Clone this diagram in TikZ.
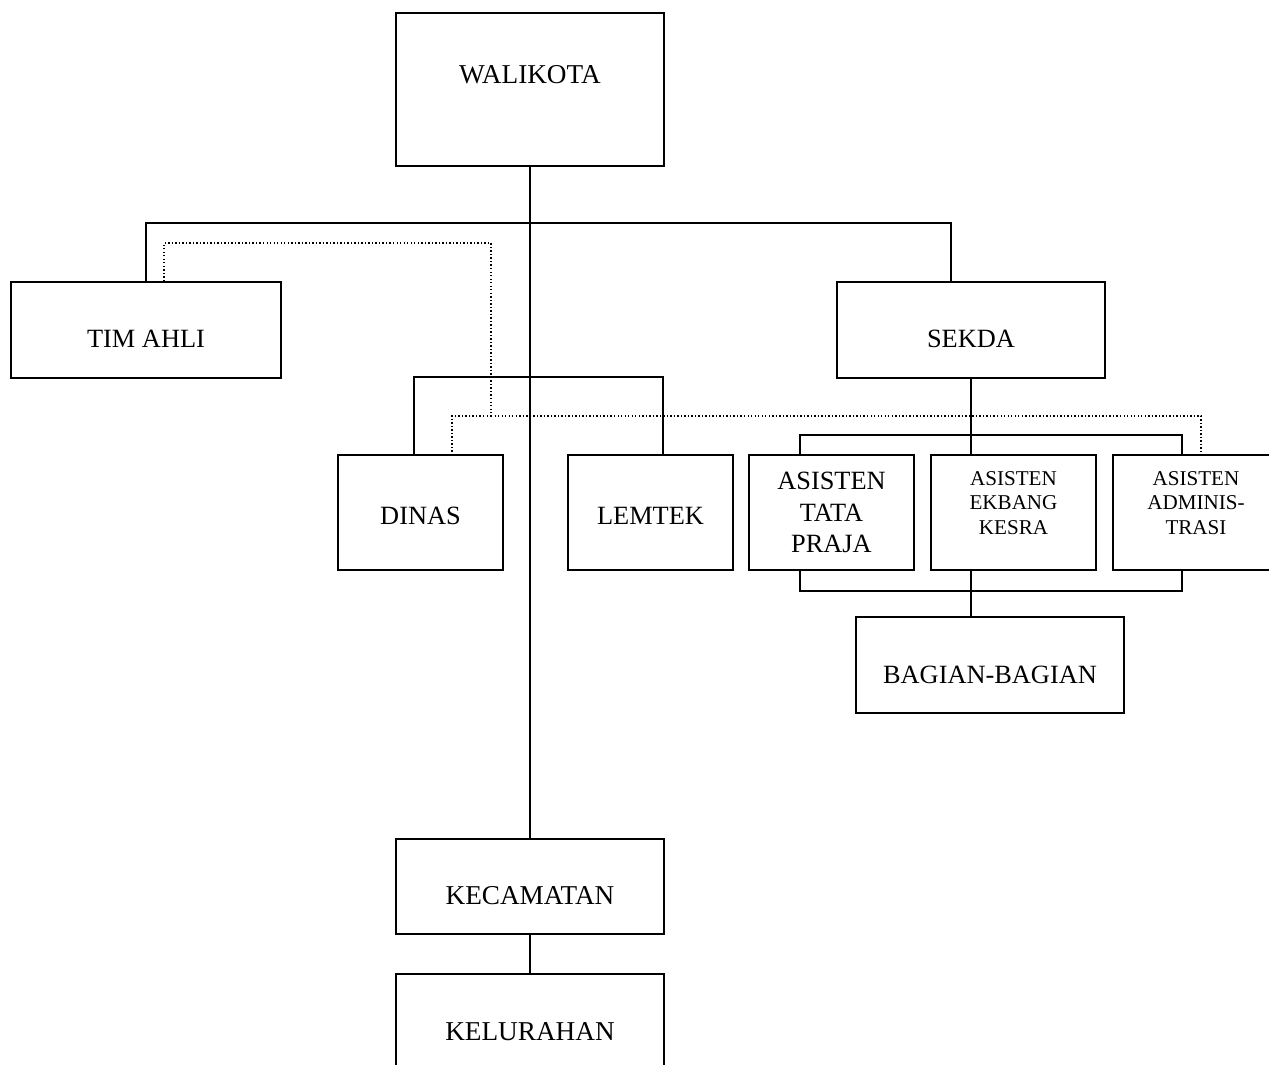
\documentclass[tikz,border=0pt]{standalone}
\usepackage{fontspec}
\setmainfont{Liberation Serif}
\usepackage{tikz}

\begin{document}
\begin{tikzpicture}[x=0.02cm, y=-0.02cm,
    box/.style={draw, line width=1.1pt, inner sep=0pt},
    txt/.style={font=\fontsize{15}{17.9}\selectfont, align=center, inner sep=0pt},
    bigtxt/.style={font=\fontsize{15.5}{18}\selectfont, inner sep=0pt},
    smalltxt/.style={font=\fontsize{12}{13.9}\selectfont, align=center, inner sep=0pt},
    link/.style={line width=1.1pt},
    dotline/.style={line width=0.8pt, dash pattern=on 0.8pt off 1.2pt}]
          \useasboundingbox (0,0) rectangle (1269,1065);
          % boxes
          \node[box, minimum width=5.36cm, minimum height=3.06cm] (walikota) at (530,89.5) {};
          \node[box, minimum width=5.40cm, minimum height=1.92cm] (timahli) at (146,330) {};
          \node[box, minimum width=5.36cm, minimum height=1.92cm] (sekda) at (971,330) {};
          \node[box, minimum width=3.30cm, minimum height=2.30cm] (dinas) at (420.5,512.5) {};
          \node[box, minimum width=3.30cm, minimum height=2.30cm] (lemtek) at (650.5,512.5) {};
          \node[box, minimum width=3.30cm, minimum height=2.30cm] (tatapraja) at (831.5,512.5) {};
          \node[box, minimum width=3.30cm, minimum height=2.30cm] (ekbang) at (1013.5,512.5) {};
          \node[box, minimum width=3.32cm, minimum height=2.30cm] (admin) at (1196,512.5) {};
          \node[box, minimum width=5.36cm, minimum height=1.92cm] (bagian) at (990,665) {};
          \node[box, minimum width=5.36cm, minimum height=1.90cm] (kecamatan) at (530,886.5) {};
          \node[box, minimum width=5.36cm, minimum height=1.90cm] (kelurahan) at (530,1021.5) {};
          % texts
          \node[bigtxt] (walikota-txt) at (530,75) {WALIKOTA};
          \node[txt] (timahli-txt) at (146,339) {TIM AHLI};
          \node[txt] (sekda-txt) at (971,339) {SEKDA};
          \node[txt] (dinas-txt) at (420.5,516) {DINAS};
          \node[txt] (lemtek-txt) at (650.5,516) {LEMTEK};
          \node[txt] (tatapraja-txt) at (831.5,512.5) {ASISTEN\\TATA\\PRAJA};
          \node[smalltxt] (ekbang-txt) at (1013.5,503) {ASISTEN\\EKBANG\\KESRA};
          \node[smalltxt] (admin-txt) at (1196,503) {ASISTEN\\ADMINIS-\\TRASI};
          \node[txt] (bagian-txt) at (990,675) {BAGIAN-BAGIAN};
          \node[bigtxt] (kecamatan-txt) at (530,896) {KECAMATAN};
          \node[bigtxt] (kelurahan-txt) at (530,1032) {KELURAHAN};
          % lines
          \coordinate (top-bar) at (530,223);
          \coordinate (dot-top) at (491,243);
          \coordinate (dot-mid) at (491,416);
          \draw[link] (walikota.south) -- (kecamatan.north);
          \draw[link] (timahli.north) |- (top-bar) -| ([xshift=-0.4cm]sekda.north);
          \draw[link] ([xshift=-0.13cm]dinas.north) -- ++(0,-77) -| ([xshift=0.25cm]lemtek.north);
          \draw[link] (sekda.south) -- (sekda.south |- ekbang.north);
          \draw[link] ([xshift=-0.63cm]tatapraja.north) -- ++(0,-19) -| ([xshift=-0.28cm]admin.north);
          \draw[link] ([xshift=-0.63cm]tatapraja.south) -- ++(0,20) -| ([xshift=-0.28cm]admin.south);
          \draw[link] (sekda.south |- ekbang.south) -- (sekda.south |- bagian.north);
          \draw[link] (kecamatan.south) -- (kelurahan.north);

          \draw[dotline] ([xshift=0.36cm]timahli.north) |- (dot-top) -- (dot-mid) -| ([xshift=0.63cm]dinas.north);
          \draw[dotline] (dot-mid) -| ([xshift=0.1cm]admin.north);
        \end{tikzpicture}
\end{document}
